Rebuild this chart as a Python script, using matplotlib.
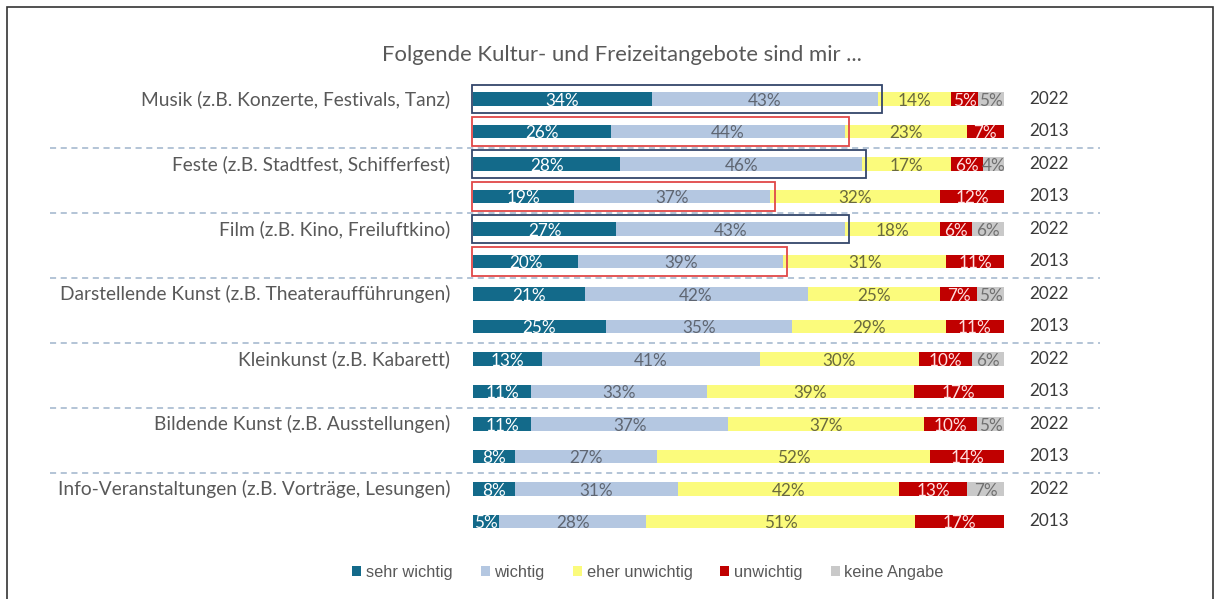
import matplotlib
matplotlib.use("Agg")
import matplotlib.pyplot as plt
from matplotlib.patches import Rectangle, Patch
import numpy as np

W, H = 1215, 599

categories = [
    "Musik (z.B. Konzerte, Festivals, Tanz)",
    "Feste (z.B. Stadtfest, Schifferfest)",
    "Film (z.B. Kino, Freiluftkino)",
    "Darstellende Kunst (z.B. Theateraufführungen)",
    "Kleinkunst (z.B. Kabarett)",
    "Bildende Kunst (z.B. Ausstellungen)",
    "Info-Veranstaltungen (z.B. Vorträge, Lesungen)",
]
years = ["2022", "2013"]
series = ["sehr wichtig", "wichtig", "eher unwichtig", "unwichtig", "keine Angabe"]

sehr_wichtig = [34, 26, 28, 19, 27, 20, 21, 25, 13, 11, 11, 8, 8, 5]
wichtig = [43, 44, 46, 37, 43, 39, 42, 35, 41, 33, 37, 27, 31, 28]
eher_unwichtig = [14, 23, 17, 32, 18, 31, 25, 29, 30, 39, 37, 52, 42, 51]
unwichtig = [5, 7, 6, 12, 6, 11, 7, 11, 10, 17, 10, 14, 13, 17]
keine_angabe = [5, 0, 4, 0, 6, 0, 5, 0, 6, 0, 5, 0, 7, 0]

# rows with highlight boxes (2022 navy, 2013 red)
highlight_rows = [0, 1, 2, 3, 4, 5]

colors = ["#136a8a", "#b4c7e1", "#fbfb7c", "#c00000", "#c9c9c9"]
label_colors = ["white", "#5f6672", "#6a6a3e", "#ffe0e0", "#707070"]

vals = np.array([sehr_wichtig, wichtig, eher_unwichtig, unwichtig, keine_angabe], dtype=float)
totals = vals.sum(axis=0)
widths = vals / totals * 100.0

fig = plt.figure(figsize=(W / 100, H / 100), dpi=100)
fig.patch.set_facecolor("white")

# axes geometry: x 0..100 -> px 473..1004 ; rows centered at 99 + 32.5 i
x0_px, x1_px = 473, 1004
top_px, bot_px = 80, 540
ax = fig.add_axes([x0_px / W, 1 - bot_px / H, (x1_px - x0_px) / W, (bot_px - top_px) / H])
y0c, dy = 99, 32.5
ax.set_xlim(0, 100)
ax.set_ylim((bot_px - y0c) / dy, (top_px - y0c) / dy)
ax.axis("off")

n = len(sehr_wichtig)
ypos = np.arange(n)
bar_h = 0.43
left = np.zeros(n)
for k in range(len(series)):
    ax.barh(ypos, widths[k], left=left, height=bar_h, color=colors[k], edgecolor="none")
    for i in range(n):
        if vals[k, i] > 0:
            ax.text(left[i] + widths[k, i] / 2, ypos[i] + 0.06, f"{int(vals[k, i])}%",
                    ha="center", va="center", fontsize=12.3, color=label_colors[k],
                    family="Lato")
    left = left + widths[k]

# highlight boxes around first two segments
for i in highlight_rows:
    w = widths[0, i] + widths[1, i]
    ec = "#34466b" if i % 2 == 0 else "#e04848"
    ax.add_patch(Rectangle((-0.2, ypos[i] - 0.44), w + 1.0, 0.88, fill=False,
                           edgecolor=ec, lw=1.3, clip_on=False))

# category labels and year labels
for g, cat in enumerate(categories):
    ax.text(-4.3, 2 * g, cat, ha="right", va="center", fontsize=13.8,
            color="#595959", family="Lato", clip_on=False)
for i in range(n):
    ax.text(104.8, ypos[i], years[i % 2], ha="left", va="center", fontsize=12.3,
            color="#3a3a3a", family="Lato", clip_on=False)

# dashed separators
for g in range(len(categories) - 1):
    ax.plot([-79.7, 118.0], [2 * g + 1.5, 2 * g + 1.5], ls=(0, (4, 3)), lw=1.1,
            color="#9fb4cc", clip_on=False)

fig.text(622 / W, 1 - 55 / H, "Folgende Kultur- und Freizeitangebote sind mir ...",
         ha="center", va="center", fontsize=15.9, color="#595959", family="Lato")

handles = [Patch(facecolor=c, edgecolor="none") for c in colors]
fig.legend(handles, series, loc="center", bbox_to_anchor=(648 / W, 1 - 572 / H),
           ncol=5, frameon=False, handlelength=0.55, handleheight=0.6, handletextpad=0.3,
           columnspacing=1.7, prop={"family": "Liberation Sans", "size": 11.8},
           labelcolor="#595959")

# outer frame
fig.add_artist(Rectangle((7 / W, -0.05), (1213 - 7) / W, 1.05 - 7 / H,
                         transform=fig.transFigure, fill=False, edgecolor="#333333", lw=1.2))

fig.savefig("out.png", dpi=100, facecolor="white")
